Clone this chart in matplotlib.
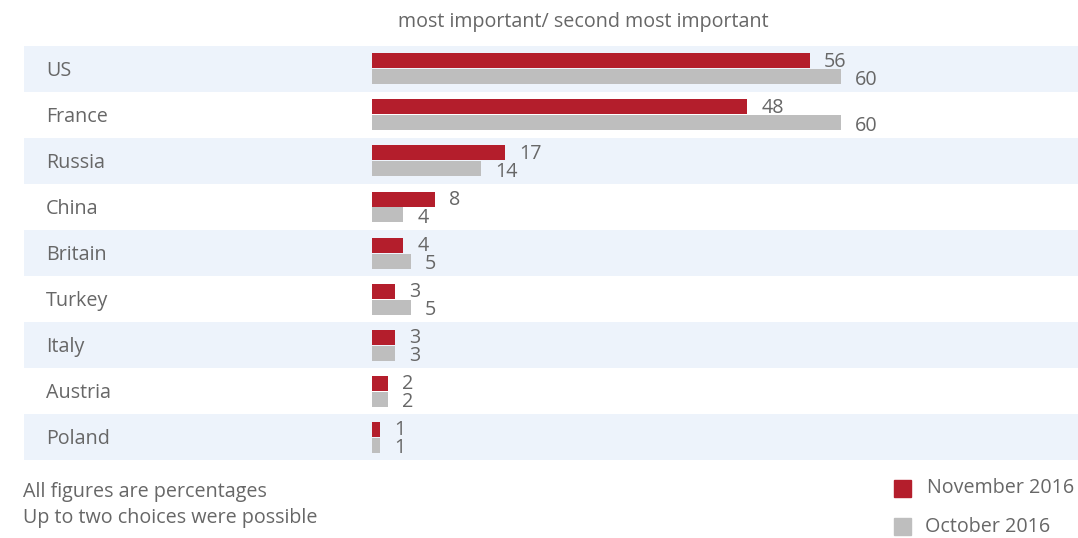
import matplotlib.pyplot as plt
from matplotlib.patches import Rectangle

countries = ['US', 'France', 'Russia', 'China', 'Britain', 'Turkey', 'Italy', 'Austria', 'Poland']
nov_2016 = [56, 48, 17, 8, 4, 3, 3, 2, 1]
oct_2016 = [60, 60, 14, 4, 5, 5, 3, 2, 1]

RED = '#b41e2c'
GRAY = '#bebebe'
BAND = '#edf3fb'
TXT = '#676767'
FS = 14.2

plt.rcParams['font.family'] = ['Open Sans', 'DejaVu Sans']

W, H = 1078, 538
fig = plt.figure(figsize=(W / 100, H / 100), dpi=100)

# axes spans the striped area (pixels 24..1078, 46..460)
ax = fig.add_axes([24 / W, 1 - 460 / H, (W - 24) / W, 414 / H])
px = 7.82  # pixels per percentage point
ax.set_xlim(-(372 - 24) / px, (W - 372) / px)
ax.set_ylim(len(countries) - 0.5, -0.5)
ax.axis('off')

for i in range(len(countries)):
    if i % 2 == 0:
        ax.axhspan(i - 0.5, i + 0.5, color=BAND, lw=0, zorder=0)

y = list(range(len(countries)))
off = 8 / 46
bh = 15 / 46
ax.barh([v - off for v in y], nov_2016, height=bh, color=RED, zorder=2)
ax.barh([v + off for v in y], oct_2016, height=bh, color=GRAY, zorder=2)

gap = 14 / px
for i, c in enumerate(countries):
    ax.text(0.021, 1 - (i + 0.55) / len(countries), c, transform=ax.transAxes,
            ha='left', va='center', fontsize=FS, color=TXT)
    ax.text(nov_2016[i] + gap, i - off + 0.02, str(nov_2016[i]), ha='left', va='center',
            fontsize=FS, color=TXT, zorder=3)
    ax.text(oct_2016[i] + gap, i + off + 0.06, str(oct_2016[i]), ha='left', va='center',
            fontsize=FS, color=TXT, zorder=3)

fig.text(583 / W, 1 - 22 / H, 'most important/ second most important', ha='center',
         va='center', fontsize=FS, color=TXT)
fig.text(23 / W, 1 - 492 / H, 'All figures are percentages', ha='left', va='center',
         fontsize=FS, color=TXT)
fig.text(23 / W, 1 - 518 / H, 'Up to two choices were possible', ha='left', va='center',
         fontsize=FS, color=TXT)

# legend (nudged left a little so the label stays inside the figure)
lx = 894
fig.add_artist(Rectangle((lx / W, 1 - 497 / H), 17 / W, 17 / H, color=RED,
                         transform=fig.transFigure))
fig.text((lx + 33) / W, 1 - 488 / H, 'November 2016', ha='left', va='center', fontsize=FS, color=TXT)
fig.add_artist(Rectangle((lx / W, 1 - 535 / H), 17 / W, 17 / H, color=GRAY,
                         transform=fig.transFigure))
fig.text((lx + 31) / W, 1 - 527 / H, 'October 2016', ha='left', va='center', fontsize=FS, color=TXT)

fig.savefig('out.png', dpi=100)
